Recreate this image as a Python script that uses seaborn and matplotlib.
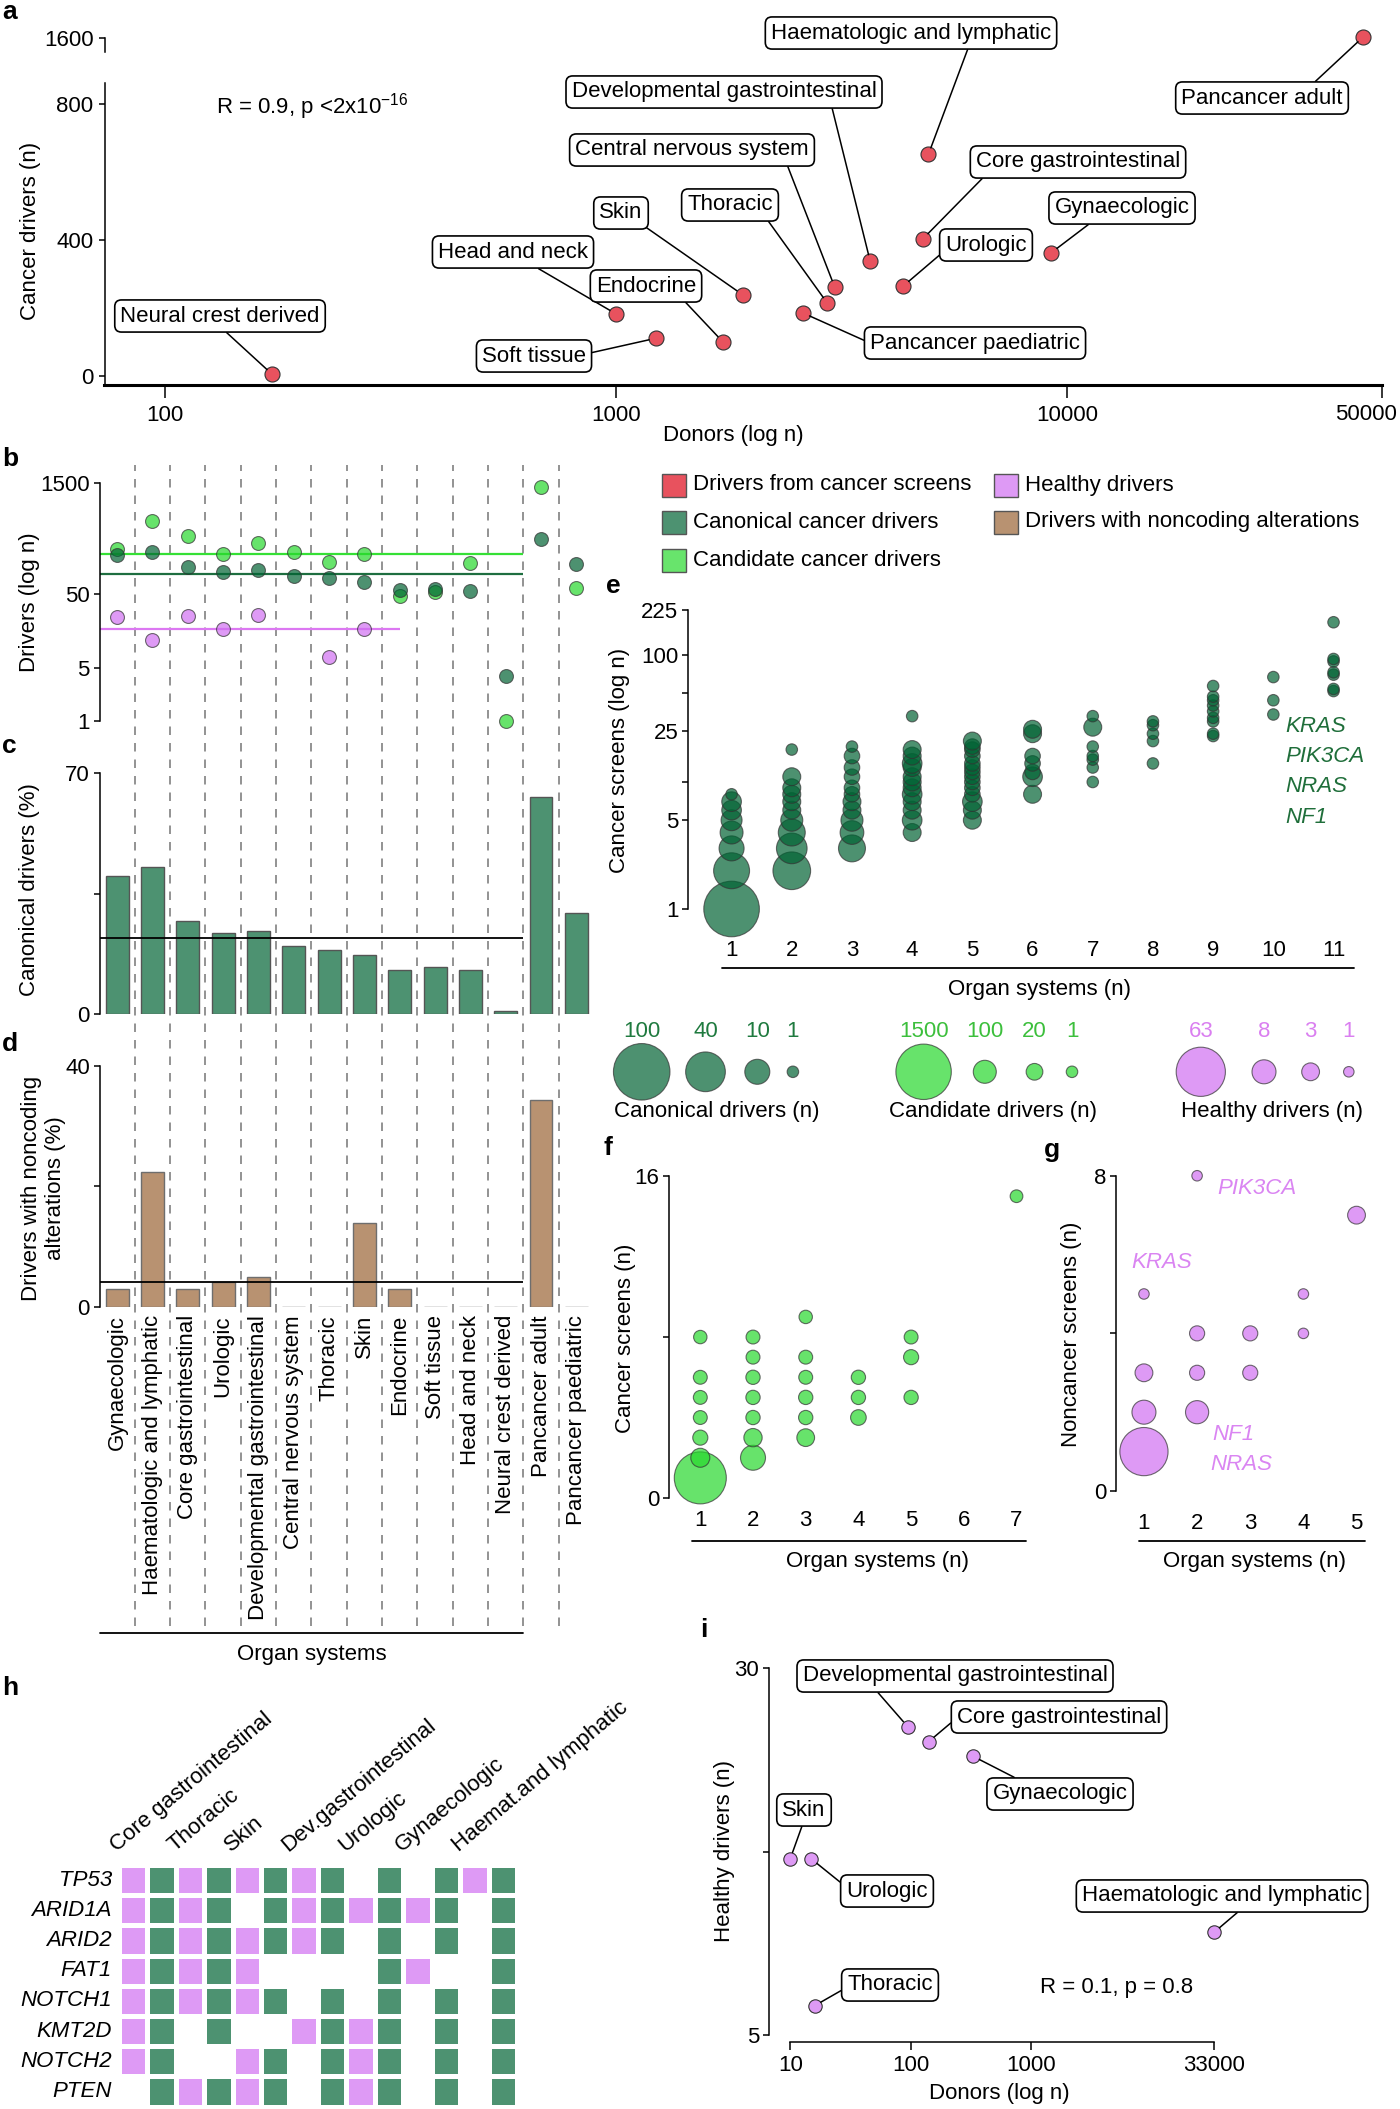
import numpy as np
import matplotlib
matplotlib.use("Agg")
import matplotlib.pyplot as plt
from matplotlib.colors import ListedColormap
from matplotlib.patches import Rectangle
from matplotlib.ticker import NullLocator
import seaborn as sns

# ========================================
# DATA
# ========================================

# a: cancer drivers vs donors per organ system
a_names = ["Neural crest derived", "Head and neck", "Soft tissue", "Endocrine", "Skin",
           "Pancancer paediatric", "Thoracic", "Central nervous system",
           "Developmental gastrointestinal", "Urologic", "Core gastrointestinal",
           "Haematologic and lymphatic", "Gynaecologic", "Pancancer adult"]
a_donors = [173, 1000, 1227, 1726, 1911, 2604, 2946, 3057, 3666, 4342, 4801, 4934, 9245, 45400]
a_drivers = [5, 183, 111, 101, 239, 185, 214, 262, 337, 265, 404, 652, 363, 1602]

# b-d: organ systems
organs = ["Gynaecologic", "Haematologic and lymphatic", "Core gastrointestinal", "Urologic",
          "Developmental gastrointestinal", "Central nervous system", "Thoracic", "Skin",
          "Endocrine", "Soft tissue", "Head and neck", "Neural crest derived",
          "Pancancer adult", "Pancancer paediatric"]
b_canonical = [163, 180, 113, 98, 102, 87, 80, 72, 55, 58, 54, 4, 268, 126]
b_candidate = [200, 472, 291, 167, 235, 180, 134, 167, 46, 53, 129, 1, 1334, 59]
b_healthy = [24, 12, 25, 17, 26, None, 7, 17, None, None, None, None, None, None]
b_canonical_ref = 92
b_candidate_ref = 167
b_healthy_ref = 17
c_canonical_pct = [40.0, 42.8, 26.9, 23.6, 24.2, 19.8, 18.7, 17.2, 12.8, 13.6, 12.8, 0.9, 63.1, 29.4]
c_ref = 22.0
d_noncoding_pct = [3.0, 22.4, 2.9, 4.1, 5.0, 0, 0, 13.8, 2.9, 0, 0, 0, 34.3, 0]
d_ref = 4.1

# e: canonical drivers -> (organ systems, cancer screens, number of drivers)
e_screens = {
    1: [1, 2, 3, 4, 5, 6, 7, 8],
    2: [2, 3, 4, 5, 6, 7, 8, 9, 11, 18],
    3: [3, 4, 5, 6, 7, 8, 9, 11, 13, 16, 19],
    4: [4, 5, 6, 7, 8, 9, 10, 11, 13, 14, 16, 18, 33],
    5: [5, 6, 7, 8, 9, 10, 11, 12, 13, 14, 16, 18, 19, 21],
    6: [8, 11, 12, 14, 16, 24, 26],
    7: [10, 13, 15, 16, 19, 27, 33],
    8: [14, 21, 24, 28, 30],
    9: [23, 24, 30, 32, 36, 40, 44, 47, 57],
    10: [34, 44, 67],
    11: [52, 54, 70, 73, 89, 93, 181],
}
e_drivers = {
    1: [95, 28, 10, 7, 5, 4, 4, 1],
    2: [33, 17, 12, 6, 3, 3, 3, 3, 3, 1],
    3: [12, 8, 6, 3, 3, 2, 2, 2, 2, 2, 1],
    4: [3, 4, 3, 3, 4, 3, 3, 3, 3, 4, 3, 3, 1],
    5: [3, 3, 4, 2, 2, 2, 2, 2, 2, 2, 2, 2, 2, 3],
    6: [3, 4, 2, 2, 2, 3, 3],
    7: [1, 1, 1, 1, 1, 3, 1],
    8: [1, 1, 1, 1, 1],
    9: [1, 1, 1, 1, 1, 1, 1, 1, 1],
    10: [1, 1, 1],
    11: [1, 1, 1, 1, 1, 1, 1],
}
e_genes = ["KRAS", "PIK3CA", "NRAS", "NF1"]

# f: candidate drivers
f_screens = {1: [1, 2, 3, 4, 5, 6, 8], 2: [2, 3, 4, 5, 6, 7, 8], 3: [3, 4, 5, 6, 7, 9],
             4: [4, 5, 6], 5: [5, 7, 8], 7: [15]}
f_drivers = {1: [1130, 36, 8, 4, 4, 4, 3], 2: [118, 30, 5, 5, 5, 4, 4], 3: [26, 5, 5, 4, 4, 3],
             4: [11, 5, 5], 5: [5, 8, 4], 7: [2]}

# g: healthy drivers
g_organs = [1, 1, 1, 1, 2, 2, 2, 2, 3, 3, 4, 4, 5]
g_screens = [1, 2, 3, 5, 2, 3, 4, 8, 3, 4, 4, 5, 7]
g_drivers = [58, 8, 3, 1, 7, 2, 2, 1, 2, 2, 1, 1, 3]

# size legends
canon_legend = [100, 40, 10, 1]
cand_legend = [1500, 100, 20, 1]
healthy_legend = [63, 8, 3, 1]

# h: shared drivers
h_genes = ["TP53", "ARID1A", "ARID2", "FAT1", "NOTCH1", "KMT2D", "NOTCH2", "PTEN"]
h_systems = ["Core gastrointestinal", "Thoracic", "Skin", "Dev.gastrointestinal",
             "Urologic", "Gynaecologic", "Haemat.and lymphatic"]
h_healthy = [[1, 1, 1, 1, 0, 0, 1],
             [1, 1, 0, 1, 1, 1, 0],
             [1, 1, 1, 1, 0, 0, 0],
             [1, 1, 1, 0, 0, 1, 0],
             [1, 1, 1, 0, 0, 0, 0],
             [1, 0, 0, 1, 1, 0, 0],
             [1, 0, 1, 0, 1, 0, 0],
             [0, 1, 1, 0, 1, 0, 0]]
h_cancer = [[1, 1, 1, 1, 1, 1, 1],
            [1, 1, 1, 1, 1, 1, 1],
            [1, 1, 1, 1, 1, 1, 1],
            [1, 1, 0, 0, 1, 0, 1],
            [1, 1, 1, 1, 1, 1, 1],
            [1, 1, 0, 1, 1, 1, 1],
            [1, 0, 1, 1, 1, 1, 1],
            [1, 1, 1, 1, 1, 1, 1]]

# i: healthy drivers vs donors
i_names = ["Skin", "Urologic", "Thoracic", "Developmental gastrointestinal",
           "Core gastrointestinal", "Gynaecologic", "Haematologic and lymphatic"]
i_donors = [10, 15, 16, 95, 141, 330, 33000]
i_healthy = [17, 17, 7, 26, 25, 24, 12]

# ========================================
# STYLE
# ========================================
RED = "#E8525E"
CANON = "#4D9271"
CAND = "#68E46C"
HEALTHY = "#DE9AF5"
BROWN = "#B89271"
CANON_A = "#016334"   # drawn with alpha -> CANON on white
CAND_A = "#27D82D"
HEALTHY_A = "#D06FF1"
EDGE = "#333333"

sns.set_theme(style="ticks")
plt.rcParams["font.family"] = ["Liberation Sans", "DejaVu Sans"]
plt.rcParams.update({
    "font.size": 16, "xtick.labelsize": 16, "ytick.labelsize": 16,
    "axes.linewidth": 1.1, "axes.edgecolor": "black",
    "xtick.color": "black", "ytick.color": "black", "text.color": "black",
    "xtick.major.width": 1.1, "ytick.major.width": 1.1,
    "xtick.major.size": 4, "ytick.major.size": 4,
    "mathtext.default": "regular",
})

W, H = 1400, 2109
fig = plt.figure(figsize=(W / 100, H / 100), dpi=100)


def place(x0, y0, x1, y1, **kw):
    ax = fig.add_axes([x0 / W, 1 - y1 / H, (x1 - x0) / W, (y1 - y0) / H], **kw)
    ax.patch.set_alpha(0)
    return ax


def bubble_area(n, ref_vals, ref_diams):
    order = np.argsort(ref_vals)
    lv = np.log10(np.asarray(ref_vals, float)[order])
    d = np.interp(np.log10(np.asarray(n, float)), lv, np.asarray(ref_diams, float)[order])
    return (d * 72 / 100) ** 2


def label_points(ax, names, xs, ys, layout):
    for name, x, y in zip(names, xs, ys):
        tx, ty, rx, ry = layout[name]
        ax.annotate(name, xy=(x, y), xytext=(tx, H - ty), textcoords="figure pixels",
                    ha="center", va="center", fontsize=16, bbox=box_style,
                    arrowprops=dict(arrowstyle="-", color="black", lw=1.1, shrinkA=0,
                                    shrinkB=5, relpos=(rx, ry)),
                    annotation_clip=False, zorder=5)


canon_diam = [56.5, 39.7, 25, 11.5]
cand_diam = [55.4, 23, 16.7, 11.5]
healthy_diam = [49.2, 24, 17.8, 10.5]

# overlay in figure pixels for free text
ov = place(0, 0, W, H, zorder=10)
ov.set_xlim(0, W)
ov.set_ylim(H, 0)
ov.axis("off")

box_style = dict(boxstyle="round,pad=0.25,rounding_size=0.3", fc="white", ec="black", lw=1.2)

# ========================================
# a
# ========================================
ax_a = place(104.5, 83, 1382, 385)
ax_at = place(104.5, 20, 1382, 52)
for ax in (ax_a, ax_at):
    ax.set_xscale("log")
donors = np.array(a_donors, float)
drivers = np.array(a_drivers, float)
low = drivers < 1000
sns.scatterplot(x=donors[low], y=drivers[low], ax=ax_a, s=117, color=RED,
                edgecolor=EDGE, linewidth=0.8, zorder=3, clip_on=False)
sns.scatterplot(x=donors[~low], y=drivers[~low], ax=ax_at, s=117, color=RED,
                edgecolor=EDGE, linewidth=0.8, zorder=3, clip_on=False)
for ax in (ax_a, ax_at):
    ax.set_xlim(73.5, 50000)
    ax.xaxis.set_minor_locator(NullLocator())
ax_a.set_ylim(-26.5, 862)
ax_at.set_ylim(1558, 1652)
sns.despine(ax=ax_a)
sns.despine(ax=ax_at, bottom=True)
ax_a.spines["bottom"].set_linewidth(2.2)
ax_a.set_yticks([0, 400, 800])
ax_a.set_xticks([100, 1000, 10000, 50000])
ax_a.set_xticklabels(["100", "1000", "10000", ""])
ax_a.tick_params(axis="x", length=9.5, pad=5)
ax_a.tick_params(axis="y", length=4, pad=4)
ax_at.set_yticks([1600])
ax_at.spines["left"].set_bounds(1558, 1600)
ax_at.tick_params(axis="x", bottom=False, labelbottom=False)
ax_at.tick_params(axis="y", length=4, pad=4)
ov.text(1366, 415, "50000", ha="center", va="center")

# label box centre (px) and where the leader line leaves the box
a_label_layout = {
    "Neural crest derived": (220, 316, 0.5, 0), "Head and neck": (513, 252, 0.6, 0),
    "Soft tissue": (534, 356, 1, 0.6), "Endocrine": (646, 286, 0.84, 0),
    "Skin": (621, 213, 0.95, 0), "Thoracic": (730, 205, 0.9, 0),
    "Central nervous system": (692, 150, 0.9, 0),
    "Developmental gastrointestinal": (724, 92, 0.85, 0),
    "Haematologic and lymphatic": (911, 33, 0.71, 0),
    "Core gastrointestinal": (1078, 162, 0.06, 0), "Urologic": (986, 245, 0, 0.25),
    "Gynaecologic": (1122, 208, 0.31, 0), "Pancancer paediatric": (975, 343, 0, 0.5),
    "Pancancer adult": (1262, 98, 0.79, 1),
}
lo_names = [n for n, k in zip(a_names, low) if k]
hi_names = [n for n, k in zip(a_names, low) if not k]
label_points(ax_a, lo_names, donors[low], drivers[low], a_label_layout)
label_points(ax_at, hi_names, donors[~low], drivers[~low], a_label_layout)
ov.text(216, 107, "R = 0.9, p <2x10$^{-16}$", ha="left", va="center")
ov.text(31, 231, "Cancer drivers (n)", rotation=90, ha="center", va="center")
ov.text(733, 436, "Donors (log n)", ha="center", va="center")

# ========================================
# b, c, d
# ========================================
xpos = np.arange(len(organs))
ax_dash = place(99.5, 465, 594, 1626, zorder=0)
ax_dash.set_xlim(-0.5, 13.5)
ax_dash.set_ylim(0, 1)
ax_dash.axis("off")
ax_dash.vlines(xpos[:-1] + 0.5, 0, 1, colors="#808080", linestyles=(0, (5.1, 4.8)), lw=1.2)

ax_b = place(99.5, 465, 594, 735)
ax_b.set_yscale("log")
ax_b.hlines(b_candidate_ref, -0.5, 11.5, color="#35E035", lw=1.6, zorder=2)
ax_b.hlines(b_canonical_ref, -0.5, 11.5, color="#1E6E40", lw=1.6, zorder=2)
ax_b.hlines(b_healthy_ref, -0.5, 8, color="#DC78F2", lw=1.6, zorder=2)
sns.scatterplot(x=xpos, y=b_candidate, ax=ax_b, s=100, color=CAND_A, alpha=0.7,
                edgecolor=EDGE, linewidth=0.8, zorder=3, clip_on=False)
sns.scatterplot(x=xpos, y=b_canonical, ax=ax_b, s=100, color=CANON_A, alpha=0.7,
                edgecolor=EDGE, linewidth=0.8, zorder=3, clip_on=False)
hx = [p for p, v in zip(xpos, b_healthy) if v is not None]
hy = [v for v in b_healthy if v is not None]
sns.scatterplot(x=hx, y=hy, ax=ax_b, s=100, color=HEALTHY_A, alpha=0.7,
                edgecolor=EDGE, linewidth=0.8, zorder=3, clip_on=False)
ax_b.set_xlim(-0.5, 13.5)
ax_b.set_ylim(0.64, 2630)
sns.despine(ax=ax_b, bottom=True)
ax_b.spines["left"].set_bounds(1, 1500)
ax_b.set_yticks([1, 5, 50, 1500])
ax_b.set_yticklabels(["1", "5", "50", "1500"])
ax_b.yaxis.set_minor_locator(NullLocator())
ax_b.set_xticks([])
ax_b.tick_params(axis="y", length=4, pad=3)

ax_c = place(99.5, 773, 594, 1014)
sns.barplot(x=xpos, y=c_canonical_pct, ax=ax_c, color=CANON, saturation=1, width=0.65,
            edgecolor="#555555", linewidth=1, errorbar=None)
ax_c.hlines(c_ref, -0.5, 11.5, color="black", lw=1.3, zorder=4)
ax_c.set_xlim(-0.5, 13.5)
ax_c.set_ylim(0, 70)
sns.despine(ax=ax_c, bottom=True)
ax_c.set_yticks([0, 35, 70])
ax_c.set_yticklabels(["0", "", "70"])
ax_c.set_xticks([])
ax_c.set(xlabel="", ylabel="")
ax_c.tick_params(axis="y", length=4, pad=3)

ax_d = place(99.5, 1065.5, 594, 1306.7)
sns.barplot(x=xpos, y=d_noncoding_pct, ax=ax_d, color=BROWN, saturation=1, width=0.65,
            edgecolor="#6E6E6E", linewidth=1, errorbar=None)
ax_d.hlines(d_ref, -0.5, 11.5, color="black", lw=1.3, zorder=4)
ax_d.set_xlim(-0.5, 13.5)
ax_d.set_ylim(0, 40)
sns.despine(ax=ax_d, bottom=True)
ax_d.set_yticks([0, 20, 40])
ax_d.set_yticklabels(["0", "", "40"])
ax_d.set_xticks(xpos)
ax_d.set_xticklabels(organs, rotation=90, ha="center", va="top")
ax_d.tick_params(axis="x", length=0, pad=6)
ax_d.tick_params(axis="y", length=4, pad=3)
ax_d.set(xlabel="", ylabel="")

ov.text(30, 602, "Drivers (log n)", rotation=90, ha="center", va="center")
ov.text(30, 890, "Canonical drivers (%)", rotation=90, ha="center", va="center")
ov.text(43.5, 1188, "Drivers with noncoding\nalterations (%)", rotation=90, ha="center",
        va="center", multialignment="center", linespacing=1.15)
ov.plot([100, 523], [1633, 1633], color="black", lw=1.3)
ov.text(312, 1654.5, "Organ systems", ha="center", va="center")

# ========================================
# colour legend
# ========================================
legend_items = [("Drivers from cancer screens", RED, 662, 485),
                ("Canonical cancer drivers", CANON, 662, 522),
                ("Candidate cancer drivers", CAND, 662, 560),
                ("Healthy drivers", HEALTHY, 994, 485),
                ("Drivers with noncoding alterations", BROWN, 994, 522)]
for label, col, x0, yc in legend_items:
    ov.add_patch(Rectangle((x0, yc - 11.5), 24, 23, fc=col, ec="#555555", lw=1))
    ov.text(x0 + 31, yc, label, ha="left", va="center")

# ========================================
# e
# ========================================
ax_e = place(688, 600, 1354, 925)
ax_e.set_yscale("log")
ex = [k for k in e_screens for _ in e_screens[k]]
ey = [v for k in e_screens for v in e_screens[k]]
en = [v for k in e_drivers for v in e_drivers[k]]
sns.scatterplot(x=ex, y=ey, ax=ax_e, s=bubble_area(en, canon_legend, canon_diam),
                color=CANON_A, alpha=0.7, edgecolor=EDGE, linewidth=0.8, clip_on=False)
ax_e.set_xlim(0.276, 11.34)
ax_e.set_ylim(0.748, 271)
sns.despine(ax=ax_e, bottom=True)
ax_e.spines["left"].set_bounds(1, 225)
ax_e.set_yticks([1, 5, 10, 25, 50, 100, 225])
ax_e.set_yticklabels(["1", "5", "", "25", "", "100", "225"])
ax_e.yaxis.set_minor_locator(NullLocator())
ax_e.set_xticks(range(1, 12))
ax_e.tick_params(axis="x", length=0, pad=11)
ax_e.tick_params(axis="y", length=4, pad=3)
for k, g in enumerate(e_genes):
    ov.text(1285, 726 + 30.5 * k, g, color="#1F6E3A", style="italic", ha="left", va="center")
ov.text(620, 760, "Cancer screens (log n)", rotation=90, ha="center", va="center")
ov.plot([722, 1354], [968, 968], color="black", lw=1.3)
ov.text(1039, 990, "Organ systems (n)", ha="center", va="center")

# size legend
size_legends = [
    (canon_legend, canon_diam, CANON_A, "#1F7A3F", [641.7, 705.5, 757.3, 792.9],
     "Canonical drivers (n)", 717),
    (cand_legend, cand_diam, CAND_A, "#3CBF3C", [923.6, 984.8, 1034.5, 1072],
     "Candidate drivers (n)", 993),
    (healthy_legend, healthy_diam, HEALTHY_A, "#DA7FF0", [1200.8, 1264, 1310.6, 1348.8],
     "Healthy drivers (n)", 1272),
]
for vals, diams, col, tcol, xs, cap, capx in size_legends:
    ov.scatter(xs, [1071.8] * len(xs), s=bubble_area(vals, vals, diams), color=col,
               alpha=0.7, edgecolor=EDGE, linewidth=0.8)
    for xv, v in zip(xs, vals):
        ov.text(xv, 1031.7, str(v), color=tcol, ha="center", va="center")
    ov.text(capx, 1112, cap, ha="center", va="center")

# ========================================
# f
# ========================================
ax_f = place(669, 1160, 1026, 1498)
fx_ = [k for k in f_screens for _ in f_screens[k]]
fy_ = [v for k in f_screens for v in f_screens[k]]
fn_ = [v for k in f_drivers for v in f_drivers[k]]
sns.scatterplot(x=fx_, y=fy_, ax=ax_f, s=bubble_area(fn_, cand_legend, cand_diam),
                color=CAND_A, alpha=0.7, edgecolor=EDGE, linewidth=0.8, clip_on=False)
ax_f.set_xlim(0.406, 7.18)
ax_f.set_ylim(0, 16.8)
sns.despine(ax=ax_f, bottom=True)
ax_f.spines["left"].set_bounds(0, 16)
ax_f.set_yticks([0, 8, 16])
ax_f.set_yticklabels(["0", "", "16"])
ax_f.set_xticks(range(1, 8))
ax_f.tick_params(axis="x", length=0, pad=9)
ax_f.tick_params(axis="y", length=4, pad=3)
ov.text(626, 1338, "Cancer screens (n)", rotation=90, ha="center", va="center")
ov.plot([692, 1026], [1540.7, 1540.7], color="black", lw=1.3)
ov.text(877, 1561.7, "Organ systems (n)", ha="center", va="center")

# ========================================
# g
# ========================================
ax_g = place(1116, 1160, 1364.5, 1491)
sns.scatterplot(x=g_organs, y=g_screens, ax=ax_g,
                s=bubble_area(g_drivers, healthy_legend, healthy_diam),
                color=HEALTHY_A, alpha=0.7, edgecolor=EDGE, linewidth=0.8, clip_on=False)
ax_g.set_xlim(0.474, 5.15)
ax_g.set_ylim(0, 8.4)
sns.despine(ax=ax_g, bottom=True)
ax_g.spines["left"].set_bounds(0, 8)
ax_g.set_yticks([0, 4, 8])
ax_g.set_yticklabels(["0", "", "8"])
ax_g.set_xticks(range(1, 6))
ax_g.tick_params(axis="x", length=0, pad=16)
ax_g.tick_params(axis="y", length=4, pad=3)
for g, x0, yc in [("PIK3CA", 1217, 1188.6), ("KRAS", 1131.8, 1263),
                  ("NF1", 1212.8, 1434.6), ("NRAS", 1210, 1464)]:
    ov.text(x0, yc, g, color="#DA85F2", style="italic", ha="left", va="center")
ov.text(1071.6, 1334, "Noncancer screens (n)", rotation=90, ha="center", va="center")
ov.plot([1138.6, 1364.5], [1540.6, 1540.6], color="black", lw=1.3)
ov.text(1254.7, 1561.7, "Organ systems (n)", ha="center", va="center")

# ========================================
# h
# ========================================
mat = np.zeros((len(h_genes), 2 * len(h_systems)))
mat[:, 0::2] = np.array(h_healthy)
mat[:, 1::2] = np.array(h_cancer) * 2
ax_h = place(118.75, 1865, 517, 2106.7)
sns.heatmap(mat, ax=ax_h, cmap=ListedColormap(["white", HEALTHY, CANON]), vmin=0, vmax=2,
            cbar=False, linewidths=2.5, linecolor="white", xticklabels=False,
            yticklabels=h_genes)
ax_h.tick_params(axis="y", length=0, pad=5)
for t in ax_h.get_yticklabels():
    t.set_style("italic")
    t.set_rotation(0)
for k, name in enumerate(h_systems):
    ax_h.text(2 * k + 0.06, -0.3, name, rotation=40, rotation_mode="anchor",
              ha="left", va="bottom", fontsize=16)

# ========================================
# i
# ========================================
ax_i = place(769, 1650, 1230, 2041.7)
ax_i.set_xscale("log")
sns.scatterplot(x=i_donors, y=i_healthy, ax=ax_i, s=93, color=HEALTHY, edgecolor=EDGE,
                linewidth=0.8, zorder=3, clip_on=False)
ax_i.set_xlim(6.67, 44700)
ax_i.set_ylim(4.54, 31.25)
ax_i.xaxis.set_minor_locator(NullLocator())
sns.despine(ax=ax_i)
ax_i.spines["left"].set_bounds(5, 30)
ax_i.spines["bottom"].set_bounds(10, 33000)
ax_i.set_yticks([5, 17.5, 30])
ax_i.set_yticklabels(["5", "", "30"])
ax_i.set_xticks([10, 100, 1000, 33000])
ax_i.set_xticklabels(["10", "100", "1000", "33000"])
ax_i.tick_params(axis="x", length=5.5, pad=4)
ax_i.tick_params(axis="y", length=4, pad=3)
i_label_layout = {
    "Developmental gastrointestinal": (955, 1676, 0.23, 0),
    "Core gastrointestinal": (1059, 1717, 0, 0.46),
    "Gynaecologic": (1060, 1794, 0.25, 1), "Skin": (804, 1810, 0.5, 0),
    "Urologic": (887, 1891, 0, 0.69), "Haematologic and lymphatic": (1222, 1896, 0.58, 0),
    "Thoracic": (890, 1985, 0, 0.4),
}
label_points(ax_i, i_names, i_donors, i_healthy, i_label_layout)
ov.text(1117, 1988, "R = 0.1, p = 0.8", ha="center", va="center")
ov.text(724.6, 1851, "Healthy drivers (n)", rotation=90, ha="center", va="center")
ov.text(999, 2093, "Donors (log n)", ha="center", va="center")

# panel letters
for letter, x0, yc in [("a", 2, 12), ("b", 2, 459), ("c", 2, 746), ("d", 2, 1044),
                       ("e", 606, 586), ("f", 603, 1148), ("g", 1044, 1150),
                       ("h", 2, 1688), ("i", 700, 1630)]:
    ov.text(x0, yc, letter, fontsize=19, fontweight="bold", ha="left", va="center")

fig.savefig("out.png", dpi=100)
